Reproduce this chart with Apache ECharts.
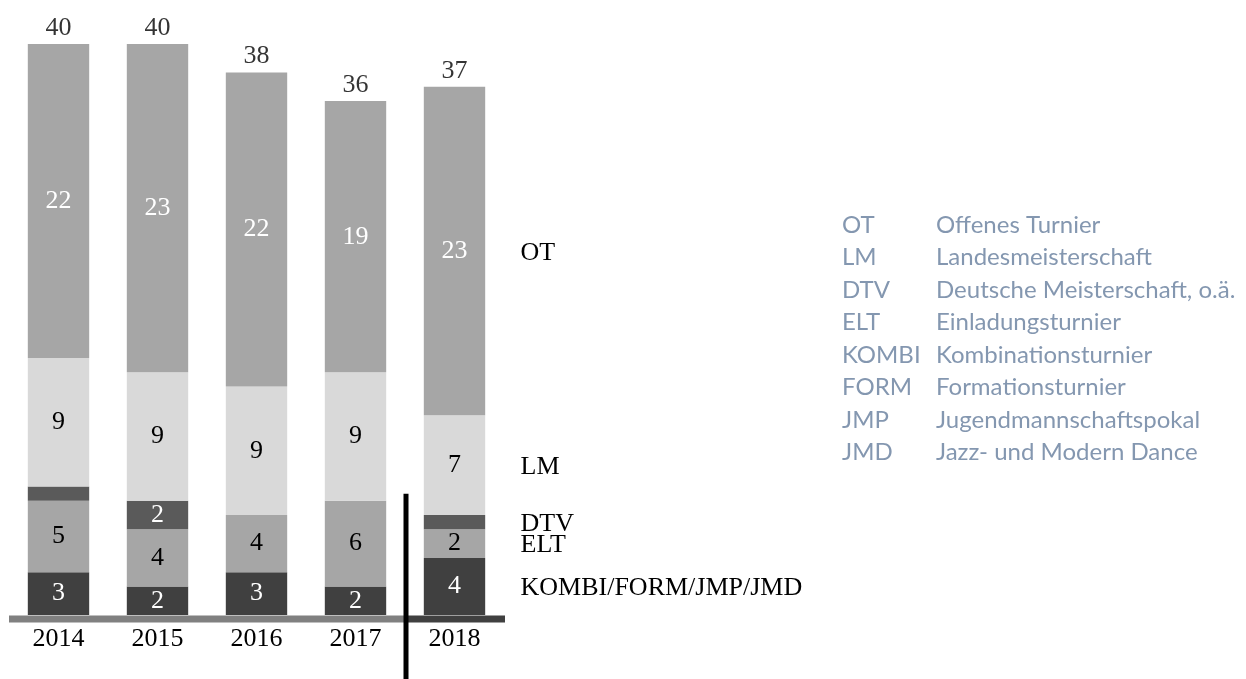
<!DOCTYPE html>
<html style="height: 100%">
<head>
    <meta charset="utf-8">
    <script src="https://cdn.jsdelivr.net/npm/echarts@6/dist/echarts.min.js"></script>
</head>
<body style="height:100%;margin:0;background:#fff">
    <div id="main" style="width:1246px;height:679px;"></div>
    <script type="text/javascript">

        // Daten
        var years = ['2014', '2015', '2016', '2017', '2018'];
        var kombi = [3, 2, 3, 2, 4];
        var elt = [5, 4, 4, 6, 2];
        var dtv = [1, 2, 0, 0, 1];
        var lm = [9, 9, 9, 9, 7];
        var ot = [22, 23, 22, 19, 23];
        var totals = [40, 40, 38, 36, 37];

        var legendCodes = ['OT', 'LM', 'DTV', 'ELT', 'KOMBI', 'FORM', 'JMP', 'JMD'];
        var legendNames = ['Offenes Turnier', 'Landesmeisterschaft', 'Deutsche Meisterschaft, o.ä.',
            'Einladungsturnier', 'Kombinationsturnier', 'Formationsturnier',
            'Jugendmannschaftspokal', 'Jazz- und Modern Dance'];

        var serif = '"Liberation Serif", serif';
        var sans = 'Lato, "Open Sans", sans-serif';

        var myChart = echarts.init(document.getElementById('main'));

        function seg(name, data, color, textColor) {
            return {
                name: name,
                type: 'bar',
                stack: 'total',
                data: data,
                barWidth: '62%',
                itemStyle: { color: color },
                label: {
                    show: true,
                    position: 'inside',
                    color: textColor,
                    fontFamily: serif,
                    fontSize: 26,
                    formatter: function (p) { return p.value >= 2 ? p.value : ''; }
                }
            };
        }

        var option = {
            animation: false,
            grid: { left: 9, right: 742, top: 44, bottom: 64 },
            xAxis: {
                type: 'category',
                data: years,
                axisLine: { show: false },
                axisTick: { show: false },
                axisLabel: { color: '#000', fontFamily: serif, fontSize: 26, margin: 11 }
            },
            yAxis: {
                type: 'value',
                min: 0,
                max: 40,
                show: false,
                splitLine: { show: false }
            },
            series: [
                seg('KOMBI/FORM/JMP/JMD', kombi, '#404040', '#fff'),
                seg('ELT', elt, '#a6a6a6', '#000'),
                seg('DTV', dtv, '#5a5a5a', '#fff'),
                seg('LM', lm, '#d9d9d9', '#000'),
                seg('OT', ot, '#a6a6a6', '#fff'),
                {
                    type: 'scatter',
                    symbolSize: 0,
                    data: totals.map(function (v, i) { return [i, v]; }),
                    label: {
                        show: true,
                        position: 'top',
                        distance: 3,
                        color: '#000',
                        fontFamily: serif,
                        fontSize: 26,
                        formatter: function (p) { return p.value[1]; }
                    }
                }
            ]
        };
        myChart.setOption(option);

        // Beschriftungen rechts neben 2018, Trennlinie, Achse, Legende
        var last = years.length - 1;
        var segs = [
            ['KOMBI/FORM/JMP/JMD', kombi[last]],
            ['ELT', elt[last]],
            ['DTV', dtv[last]],
            ['LM', lm[last]],
            ['OT', ot[last]]
        ];
        var graphics = [];
        var base = 0;
        var x2018 = myChart.convertToPixel({ gridIndex: 0 }, [last, 0])[0];
        segs.forEach(function (s) {
            var mid = base + s[1] / 2;
            base += s[1];
            var y = myChart.convertToPixel({ gridIndex: 0 }, [last, mid])[1];
            graphics.push({
                type: 'text',
                x: x2018 + 66,
                y: y + 2,
                style: {
                    text: s[0], fill: '#000', font: '26px ' + serif,
                    verticalAlign: 'middle', align: 'left'
                }
            });
        });

        var x2017 = myChart.convertToPixel({ gridIndex: 0 }, [last - 1, 0])[0];
        var x2014 = myChart.convertToPixel({ gridIndex: 0 }, [0, 0])[0];
        var step = x2018 - x2017;
        var sepX = (x2017 + x2018) / 2;
        var zeroY = myChart.convertToPixel({ gridIndex: 0 }, [0, 0])[1];
        var sepTop = myChart.convertToPixel({ gridIndex: 0 }, [0, 8.5])[1];

        graphics.push({
            type: 'line',
            shape: { x1: x2014 - step / 2, y1: zeroY + 4, x2: sepX, y2: zeroY + 4 },
            style: { stroke: '#808080', lineWidth: 7 }
        });
        graphics.push({
            type: 'line',
            shape: { x1: sepX, y1: zeroY + 4, x2: x2018 + step / 2 + 1, y2: zeroY + 4 },
            style: { stroke: '#404040', lineWidth: 7 }
        });
        graphics.push({
            type: 'line',
            shape: { x1: sepX + 1, y1: sepTop, x2: sepX + 1, y2: 679 },
            style: { stroke: '#000', lineWidth: 5 }
        });

        legendCodes.forEach(function (c, i) {
            var y = 225 + i * 32.5;
            graphics.push({
                type: 'text', x: 842, y: y,
                style: { text: c, fill: '#8497b0', font: '24px ' + sans, verticalAlign: 'middle' }
            });
            graphics.push({
                type: 'text', x: 936, y: y,
                style: { text: legendNames[i], fill: '#8497b0', font: '24px ' + sans, verticalAlign: 'middle' }
            });
        });

        myChart.setOption({ graphic: graphics });
    </script>
</body>
</html>
